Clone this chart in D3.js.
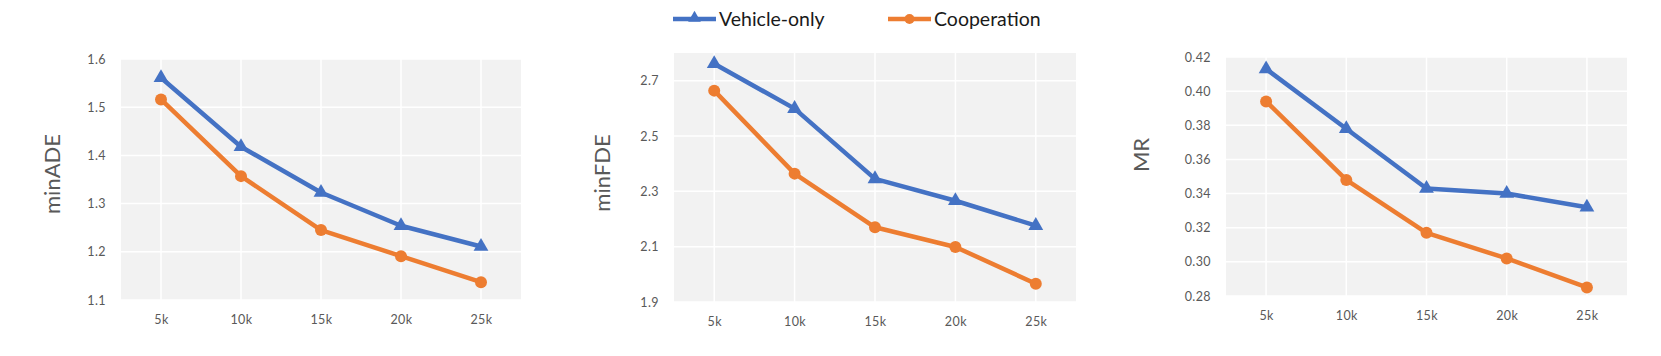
<!DOCTYPE html>
<html>
<head>
<meta charset="utf-8">
<script src="https://cdn.jsdelivr.net/npm/d3@7"></script>
<style>
  body { margin: 0; background: #fff; }
  svg { display: block; font-family: Lato, "Open Sans", sans-serif; }
</style>
</head>
<body>
<svg id="chart" width="1661" height="356"></svg>
<script>
// data
const steps = ["5k", "10k", "15k", "20k", "25k"];
const seriesNames = ["Vehicle-only", "Cooperation"];

const adeVehicle = [1.561, 1.418, 1.323, 1.254, 1.211];
const adeCoop = [1.516, 1.357, 1.245, 1.191, 1.137];
const fdeVehicle = [2.761, 2.599, 2.345, 2.266, 2.176];
const fdeCoop = [2.664, 2.364, 2.170, 2.099, 1.966];
const mrVehicle = [0.413, 0.378, 0.343, 0.340, 0.332];
const mrCoop = [0.394, 0.348, 0.317, 0.302, 0.285];

const adeTicks = [1.1, 1.2, 1.3, 1.4, 1.5, 1.6];
const fdeTicks = [1.9, 2.1, 2.3, 2.5, 2.7];
const mrTicks = [0.28, 0.30, 0.32, 0.34, 0.36, 0.38, 0.40, 0.42];

const blue = "#4472c4", orange = "#ed7d31";
const grey = "#595959";

const svg = d3.select("#chart");

const panels = [
  { title: "minADE", series: [adeVehicle, adeCoop], domain: [1.1, 1.6], ticks: adeTicks, fmt: ".1f",
    x0: 121, x1: 521, y0: 59, y1: 300, titleX: 60, titleY: 174 },
  { title: "minFDE", series: [fdeVehicle, fdeCoop], domain: [1.9, 2.8], ticks: fdeTicks, fmt: ".1f",
    x0: 674, x1: 1076, y0: 53, y1: 302, titleX: 610, titleY: 173 },
  { title: "MR", series: [mrVehicle, mrCoop], domain: [0.28, 0.42], ticks: mrTicks, fmt: ".2f",
    x0: 1226, x1: 1627, y0: 57, y1: 296, titleX: 1149, titleY: 155 }
];

const colors = [blue, orange];
const triangle = d3.symbol().type(d3.symbolTriangle).size(95);

panels.forEach(p => {
  const x = d3.scalePoint().domain(steps).range([p.x0, p.x1]).padding(0.5);
  const y = d3.scaleLinear().domain(p.domain).range([p.y1, p.y0]);
  const g = svg.append("g");

  g.append("rect")
    .attr("x", p.x0).attr("y", p.y0)
    .attr("width", p.x1 - p.x0).attr("height", p.y1 - p.y0)
    .attr("fill", "#f2f2f2");

  // horizontal grid
  g.selectAll(".hgrid").data(p.ticks).join("line")
    .attr("x1", p.x0).attr("x2", p.x1)
    .attr("y1", d => y(d)).attr("y2", d => y(d))
    .attr("stroke", "#fff").attr("stroke-width", 1.5);

  // vertical grid
  g.selectAll(".vgrid").data(steps).join("line")
    .attr("x1", d => x(d)).attr("x2", d => x(d))
    .attr("y1", p.y0).attr("y2", p.y1)
    .attr("stroke", "#fff").attr("stroke-width", 1.5);

  const yAxis = g.append("g")
    .attr("transform", `translate(${p.x0 - 6},0)`)
    .call(d3.axisLeft(y).tickValues(p.ticks).tickFormat(d3.format(p.fmt)).tickSize(0).tickPadding(9));
  yAxis.select(".domain").remove();
  yAxis.selectAll("text").attr("fill", grey).style("font-size", "12.5px")
    .style("font-family", "Lato").style("letter-spacing", "0.4px");

  const xAxis = g.append("g")
    .attr("transform", `translate(0,${p.y1 + 8})`)
    .call(d3.axisBottom(x).tickSize(0).tickPadding(7));
  xAxis.select(".domain").remove();
  xAxis.selectAll("text").attr("fill", grey).style("font-size", "12.5px")
    .style("font-family", "Lato").style("letter-spacing", "0.4px");

  g.append("text")
    .attr("transform", `translate(${p.titleX},${p.titleY}) rotate(-90)`)
    .attr("text-anchor", "middle")
    .attr("fill", grey)
    .style("font-size", "22px")
    .text(p.title);

  const line = d3.line().x((d, i) => x(steps[i])).y(d => y(d));

  p.series.forEach((vals, k) => {
    g.append("path")
      .datum(vals)
      .attr("d", line)
      .attr("fill", "none")
      .attr("stroke", colors[k])
      .attr("stroke-width", 4.5)
      .attr("stroke-linejoin", "round");

    if (k === 0) {
      g.selectAll(".tri").data(vals).join("path")
        .attr("d", triangle)
        .attr("transform", (d, i) => `translate(${x(steps[i])},${y(d)})`)
        .attr("fill", colors[k]);
    } else {
      g.selectAll(".dot").data(vals).join("circle")
        .attr("cx", (d, i) => x(steps[i]))
        .attr("cy", d => y(d))
        .attr("r", 6)
        .attr("fill", colors[k]);
    }
  });
});

// legend
const legend = svg.append("g").attr("transform", "translate(0,19)");
const legendX = [673, 888];
seriesNames.forEach((name, k) => {
  const lg = legend.append("g").attr("transform", `translate(${legendX[k]},0)`);
  lg.append("line").attr("x1", 0).attr("x2", 43).attr("y1", 0).attr("y2", 0)
    .attr("stroke", colors[k]).attr("stroke-width", 4.5);
  if (k === 0) {
    lg.append("path").attr("d", d3.symbol().type(d3.symbolTriangle).size(70))
      .attr("transform", "translate(21.5,-1)").attr("fill", colors[k]);
  } else {
    lg.append("circle").attr("cx", 21.5).attr("cy", 0).attr("r", 5).attr("fill", colors[k]);
  }
  lg.append("text").attr("x", 46).attr("y", 0).attr("dy", "0.35em")
    .attr("fill", "#1a1a1a").style("font-size", "19.5px")
    .text(name);
});
</script>
</body>
</html>
